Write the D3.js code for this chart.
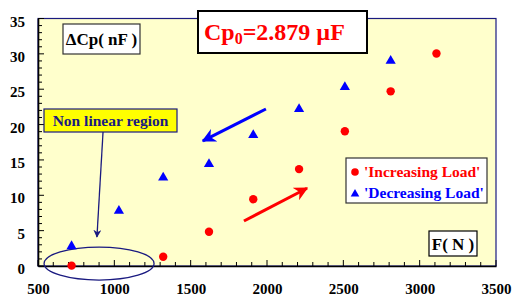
<!DOCTYPE html>
<html>
<head>
<meta charset="utf-8">
<script src="https://cdn.jsdelivr.net/npm/d3@7"></script>
<style>
  body { margin:0; background:#fff; }
</style>
</head>
<body>
<script>
// data
var incForce = [720, 1320, 1620, 1910, 2210, 2510, 2810, 3110];
var incCap   = [0.05, 1.3, 4.85, 9.45, 13.7, 19.05, 24.7, 30.05];
var decForce = [720, 1030, 1320, 1620, 1910, 2210, 2510, 2810];
var decCap   = [2.8, 7.8, 12.5, 14.4, 18.5, 22.2, 25.3, 29.0];
var xTicks = [500, 1000, 1500, 2000, 2500, 3000, 3500];
var yTicks = [0, 5, 10, 15, 20, 25, 30, 35];

var FONT = "Liberation Serif";
var width = 512, height = 298;
var margin = {left:38, right:16, top:18.5, bottom:32};
var w = width - margin.left - margin.right;
var h = height - margin.top - margin.bottom;

var x = d3.scaleLinear().domain([500,3500]).range([0,w]);
var y = d3.scaleLinear().domain([0,35]).range([h,0]);

var svg = d3.select("body").append("svg").attr("width",width).attr("height",height);
var g = svg.append("g").attr("transform","translate("+margin.left+","+margin.top+")");

// plot background + frame
g.append("rect").attr("width",w).attr("height",h).attr("fill","#ffffcc")
  .attr("stroke","#1a1a80").attr("stroke-width",1.2);

// minor ticks (inside)
var xMinor = d3.range(500,3501,100), yMinor = d3.range(0,35.1,1);
g.selectAll(".xm").data(xMinor).enter().append("line")
  .attr("x1",d=>x(d)).attr("x2",d=>x(d)).attr("y1",h)
  .attr("y2",d=>h-(d%500==0?6:4)).attr("stroke","#000");
g.selectAll(".ym").data(yMinor).enter().append("line")
  .attr("y1",d=>y(d)).attr("y2",d=>y(d)).attr("x1",0)
  .attr("x2",d=>(d%5==0?6:4)).attr("stroke","#000");

// axes
var xAxis = d3.axisBottom(x).tickValues(xTicks).tickFormat(d3.format("d")).tickSize(0).tickPadding(17);
var yAxis = d3.axisLeft(y).tickValues(yTicks).tickFormat(d3.format("d")).tickSize(0).tickPadding(13);
var xg = g.append("g").attr("transform","translate(0,"+h+")").call(xAxis);
var yg = g.append("g").call(yAxis);
[xg,yg].forEach(function(a){
  a.select(".domain").attr("stroke","#000").attr("stroke-width",1.6);
  a.selectAll("text").attr("font-family",FONT).attr("font-weight","bold")
    .attr("font-size",15).attr("fill","#000");
});
yg.selectAll("text").attr("dy","0.5em");

// ellipse + annotation for non linear region
g.append("ellipse").attr("cx",x(900)).attr("cy",y(0.35)).attr("rx",55).attr("ry",16.5)
  .attr("fill","none").attr("stroke","#1a1a80").attr("stroke-width",1.3);

var defs = svg.append("defs");
function marker(id,col,size){
  defs.append("marker").attr("id",id).attr("viewBox","0 0 10 10").attr("refX",9).attr("refY",5)
    .attr("markerWidth",size).attr("markerHeight",size).attr("orient","auto")
    .attr("markerUnits","userSpaceOnUse")
    .append("path").attr("d","M0,0 L10,5 L0,10 L3,5 z").attr("fill",col);
}
marker("an","#1a1a80",8); marker("ab","#0000ff",14); marker("ar","#ff0000",14);

g.append("line").attr("x1",x(926)).attr("y1",y(18.95)).attr("x2",x(886)).attr("y2",y(4.1))
  .attr("stroke","#1a1a80").attr("stroke-width",1.3).attr("marker-end","url(#an)");

// direction arrows
g.append("line").attr("x1",x(1993)).attr("y1",y(22.2)).attr("x2",x(1580)).attr("y2",y(17.7))
  .attr("stroke","#0000ff").attr("stroke-width",3).attr("marker-end","url(#ab)");
g.append("line").attr("x1",x(1849)).attr("y1",y(6.36)).attr("x2",x(2262)).attr("y2",y(11.0))
  .attr("stroke","#ff0000").attr("stroke-width",3).attr("marker-end","url(#ar)");

// data points
var inc = incForce.map((f,i)=>({f:f,c:incCap[i]}));
var dec = decForce.map((f,i)=>({f:f,c:decCap[i]}));
g.selectAll(".inc").data(inc).enter().append("circle")
  .attr("cx",d=>x(d.f)).attr("cy",d=>y(d.c)).attr("r",4.2).attr("fill","#ff0000");
var tri = d3.symbol().type(d3.symbolTriangle).size(45);
g.selectAll(".dec").data(dec).enter().append("path")
  .attr("d",tri).attr("transform",d=>"translate("+x(d.f)+","+y(d.c)+")").attr("fill","#0000ff");

// text boxes
function box(x0,y0,bw,bh,fill,stroke,sw){
  svg.append("rect").attr("x",x0).attr("y",y0).attr("width",bw).attr("height",bh)
    .attr("fill",fill).attr("stroke",stroke).attr("stroke-width",sw);
}
function label(tx,ty,size,col,str,anchor){
  return svg.append("text").attr("x",tx).attr("y",ty).attr("font-family",FONT)
    .attr("font-weight","bold").attr("font-size",size).attr("fill",col)
    .attr("text-anchor",anchor||"start").text(str);
}
box(198,11,169,42,"#fff","#000",2);
var t = label(204,40,24,"#ff0000","");
t.append("tspan").text("Cp");
t.append("tspan").text("0").attr("font-size",16).attr("dy",4);
t.append("tspan").text("=2.879 \u00b5F").attr("dy",-4);

box(63,24,77,30,"#fff","#333",1.2);
label(101.5,45,17,"#000","\u0394Cp( nF )","middle");

box(44,109,133,23,"#ffff00","#1a1a80",1.2);
label(110.5,126,15.5,"#1a1a80","Non linear region","middle");

box(429,231,48,25,"#fff","#000",1.2);
label(453,249.5,17,"#000","F( N )","middle");

// legend
box(346,158,141,45,"#fff","#333",1.2);
svg.append("circle").attr("cx",355).attr("cy",172).attr("r",3.8).attr("fill","#ff0000");
svg.append("path").attr("d",d3.symbol().type(d3.symbolTriangle).size(32))
  .attr("transform","translate(355,194)").attr("fill","#0000ff");
label(364,177,15.5,"#ff0000","'Increasing Load'");
label(364,198,15.5,"#0000ff","'Decreasing Load'");
</script>
</body>
</html>
